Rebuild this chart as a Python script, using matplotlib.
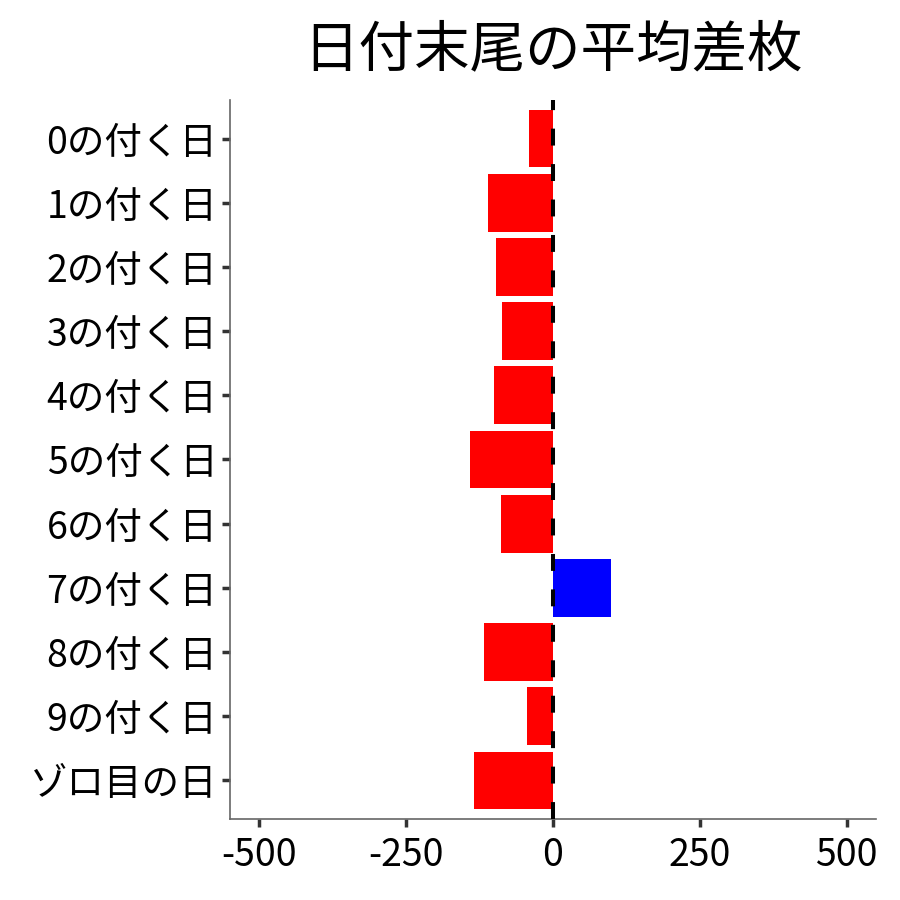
import matplotlib
matplotlib.use("Agg")
import matplotlib.pyplot as plt

plt.rcParams['font.family'] = ['Noto Sans CJK JP', 'DejaVu Sans']

categories = ["0の付く日", "1の付く日", "2の付く日", "3の付く日", "4の付く日",
              "5の付く日", "6の付く日", "7の付く日", "8の付く日", "9の付く日", "ゾロ目の日"]
values = [-41, -111, -97, -87, -101, -142, -89, 98, -118, -45, -135]
xticks = [-500, -250, 0, 250, 500]
xticklabels = ["-500", "-250", "0", "250", "500"]
title = "日付末尾の平均差枚"

fig = plt.figure(figsize=(9, 9), dpi=100)
ax = fig.add_axes([230/900, 1-819/900, (876-230)/900, (819-100)/900])

pos = list(range(len(categories)))
colors = ["#FF0000" if v < 0 else "#0000FF" for v in values]
ax.barh(pos, values, height=0.9, color=colors, zorder=2)
ax.axvline(0, ymin=0, ymax=1, color="black", linestyle=(0, (4.2, 4.6)),
           linewidth=2.9, zorder=3, solid_capstyle="butt", dash_capstyle="butt")

ax.set_yticks(pos)
ax.set_yticklabels(categories, fontsize=27)
ax.set_ylim(len(categories) - 0.4, -0.6)
ax.set_xlim(-550, 550)
ax.set_xticks(xticks)
ax.set_xticklabels(xticklabels, fontsize=27)

for s in ["top", "right"]:
    ax.spines[s].set_visible(False)
for s in ["left", "bottom"]:
    ax.spines[s].set_color("#666666")
    ax.spines[s].set_linewidth(1.2)
ax.tick_params(axis="both", colors="#333333", length=6, width=2.5, labelcolor="black", pad=3)
ax.tick_params(axis="x", pad=6)

ax.set_title(title, fontsize=40, pad=24)

fig.savefig("out.png", dpi=100)
